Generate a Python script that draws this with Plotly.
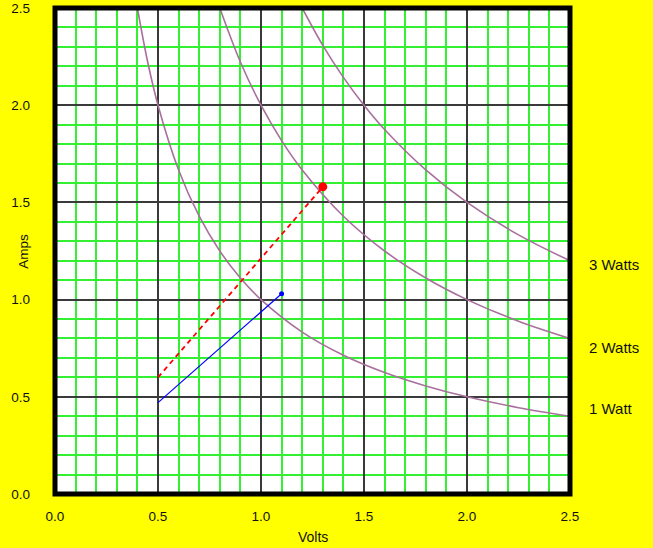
import plotly.graph_objects as go

# Power curves (I = P / V)
w1_volts = [0.4, 0.45, 0.5, 0.6, 0.7, 0.8, 0.9, 1.0, 1.2, 1.4, 1.6, 1.8, 2.0, 2.25, 2.5]
w1_amps = [2.5, 2.222, 2.0, 1.667, 1.429, 1.25, 1.111, 1.0, 0.833, 0.714, 0.625, 0.556, 0.5, 0.444, 0.4]
w2_volts = [0.8, 0.9, 1.0, 1.1, 1.2, 1.4, 1.6, 1.8, 2.0, 2.25, 2.5]
w2_amps = [2.5, 2.222, 2.0, 1.818, 1.667, 1.429, 1.25, 1.111, 1.0, 0.889, 0.8]
w3_volts = [1.2, 1.3, 1.4, 1.5, 1.6, 1.8, 2.0, 2.25, 2.5]
w3_amps = [2.5, 2.308, 2.143, 2.0, 1.875, 1.667, 1.5, 1.333, 1.2]

red_volts = [0.5, 1.3]
red_amps = [0.6, 1.58]
blue_volts = [0.5, 1.1]
blue_amps = [0.47, 1.03]

curve_labels = ["3 Watts", "2 Watts", "1 Watt"]
label_amps = [1.18, 0.755, 0.44]

tick_vals = [0.0, 0.5, 1.0, 1.5, 2.0, 2.5]
tick_text = ["0.0", "0.5", "1.0", "1.5", "2.0", "2.5"]

curve_color = "#a8709c"
text_color = "#111111"

fig = go.Figure()
for vv, aa in [(w1_volts, w1_amps), (w2_volts, w2_amps), (w3_volts, w3_amps)]:
    fig.add_trace(go.Scatter(x=vv, y=aa, mode="lines", line=dict(color=curve_color, width=1.6, shape="spline"),
                             hoverinfo="skip"))

fig.add_trace(go.Scatter(x=red_volts, y=red_amps, mode="lines", line=dict(color="#ff0000", width=1.8, dash="5px,4px")))
fig.add_trace(go.Scatter(x=[red_volts[-1]], y=[red_amps[-1]], mode="markers", marker=dict(color="#ff0000", size=9)))
fig.add_trace(go.Scatter(x=blue_volts, y=blue_amps, mode="lines", line=dict(color="#0000ff", width=1.2)))
fig.add_trace(go.Scatter(x=[blue_volts[-1]], y=[blue_amps[-1]], mode="markers", marker=dict(color="#0000ff", size=5)))

for lab, ya in zip(curve_labels, label_amps):
    fig.add_annotation(x=1.033, xref="paper", y=ya, yref="y", text=lab, showarrow=False,
                       xanchor="left", yanchor="middle", font=dict(size=15, color=text_color))

# axis titles
fig.add_annotation(x=0.5, xref="paper", y=-0.088, yref="paper", text="Volts", showarrow=False,
                   xanchor="center", yanchor="middle", font=dict(size=14, color=text_color))
fig.add_annotation(x=-0.0615, xref="paper", y=0.499, yref="paper", text="Amps", showarrow=False,
                   textangle=-90, xanchor="center", yanchor="middle", font=dict(size=13.5, color=text_color))

fig.add_shape(type="rect", xref="paper", yref="paper", x0=0, x1=1, y0=0, y1=1,
              line=dict(color="#000000", width=5), layer="above")

axis_common = dict(
    tickvals=tick_vals, ticktext=tick_text, range=[0, 2.5], automargin=False,
    showgrid=True, gridcolor="#3a3a3a", gridwidth=1.5,
    minor=dict(dtick=0.1, showgrid=True, gridcolor="#33f033", gridwidth=1.5, ticks=""),
    zeroline=False, showline=False, ticks="", tickfont=dict(size=13.5, color=text_color),
)

fig.update_layout(
    width=653, height=548,
    margin=dict(l=55, r=83, t=8, b=54, pad=0),
    paper_bgcolor="#ffff00", plot_bgcolor="#ffffff",
    showlegend=False,
    font=dict(family="Liberation Sans, Arial, sans-serif", color=text_color),
    xaxis=dict(**axis_common, ticklabelstandoff=12),
    yaxis=dict(**axis_common, ticklabelstandoff=24),
)

fig.write_html("out.html", config={"displayModeBar": False},
               post_script="document.body.style.margin='0';document.body.style.overflow='hidden';")
